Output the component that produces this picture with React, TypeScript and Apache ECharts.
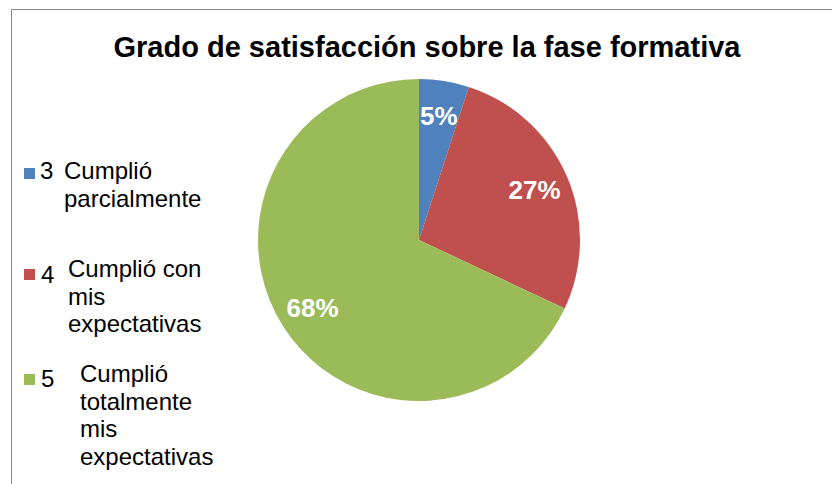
import { useEffect, useRef } from "react";
import * as echarts from "echarts";

const titleText = "Grado de satisfacción sobre la fase formativa";
const categories = [
  "3 Cumplió parcialmente",
  "4 Cumplió con mis expectativas",
  "5 Cumplió totalmente mis expectativas",
];
const legendNumbers = ["3", "4", "5"];
const legendLines = [
  ["Cumplió", "parcialmente"],
  ["Cumplió con", "mis", "expectativas"],
  ["Cumplió", "totalmente", "mis", "expectativas"],
];
const values = [5, 27, 68];
const colors = ["#4F81BD", "#C0504D", "#9BBB59"];

const FONT = "'Liberation Sans', Arial, sans-serif";

// layout (positions only)
const legendLayout = [
  { boxY: 168, numX: 40, numY: 170.8, textX: 64, textTop: 157 },
  { boxY: 269, numX: 41, numY: 274.8, textX: 68, textTop: 255 },
  { boxY: 374, numX: 41, numY: 378.8, textX: 80, textTop: 360 },
];

export default function App() {
  const ref = useRef<HTMLDivElement>(null);
  useEffect(() => {
    if (!ref.current) return;
    const chart = echarts.init(ref.current, undefined, { renderer: "svg" });
    const graphics: any[] = [
      {
        type: "rect",
        shape: { x: 11.5, y: 9.5, width: 1000, height: 1000 },
        style: { fill: "none", stroke: "#898989", lineWidth: 1 },
        silent: true,
      },
      {
        type: "text",
        x: 427,
        y: 46.5,
        style: {
          text: titleText,
          font: `bold 29px ${FONT}`,
          fill: "#000",
          align: "center",
          verticalAlign: "middle",
        },
      },
    ];
    legendNumbers.forEach((num, i) => {
      const l = legendLayout[i];
      graphics.push({
        type: "rect",
        shape: { x: 24, y: l.boxY, width: 11, height: 11 },
        style: { fill: colors[i] },
      });
      graphics.push({
        type: "text",
        x: l.numX,
        y: l.numY,
        style: {
          text: num,
          font: `24px ${FONT}`,
          fill: "#000",
          align: "left",
          verticalAlign: "middle",
        },
      });
      graphics.push({
        type: "text",
        x: l.textX,
        y: l.textTop,
        style: {
          text: legendLines[i].join("\n"),
          font: `24px ${FONT}`,
          lineHeight: 27.5,
          fill: "#000",
          align: "left",
          verticalAlign: "top",
        },
      });
    });

    const data = categories.map((n, i) => ({
      name: n,
      value: values[i],
      itemStyle: { color: colors[i] },
    }));
    const labelData = categories.map((n, i) => ({
      name: n,
      value: values[i],
      itemStyle: { color: "rgba(0,0,0,0)" },
    }));

    chart.setOption({
      animation: false,
      backgroundColor: "#fff",
      graphic: graphics,
      series: [
        {
          type: "pie",
          center: [419, 240],
          radius: 161,
          startAngle: 90,
          clockwise: true,
          silent: true,
          label: { show: false },
          labelLine: { show: false },
          data,
        },
        {
          type: "pie",
          center: [419, 240],
          radius: [85, 161],
          startAngle: 90,
          clockwise: true,
          silent: true,
          percentPrecision: 0,
          avoidLabelOverlap: false,
          labelLine: { show: false },
          label: {
            show: true,
            position: "inside",
            formatter: "{d}%",
            color: "#fff",
            fontSize: 26,
            fontWeight: "bold",
            fontFamily: FONT,
          },
          data: labelData,
        },
      ],
    });
    return () => chart.dispose();
  }, []);
  return (
    <div
      ref={ref}
      style={{ position: "absolute", left: 0, top: 0, width: 832, height: 484 }}
    />
  );
}
